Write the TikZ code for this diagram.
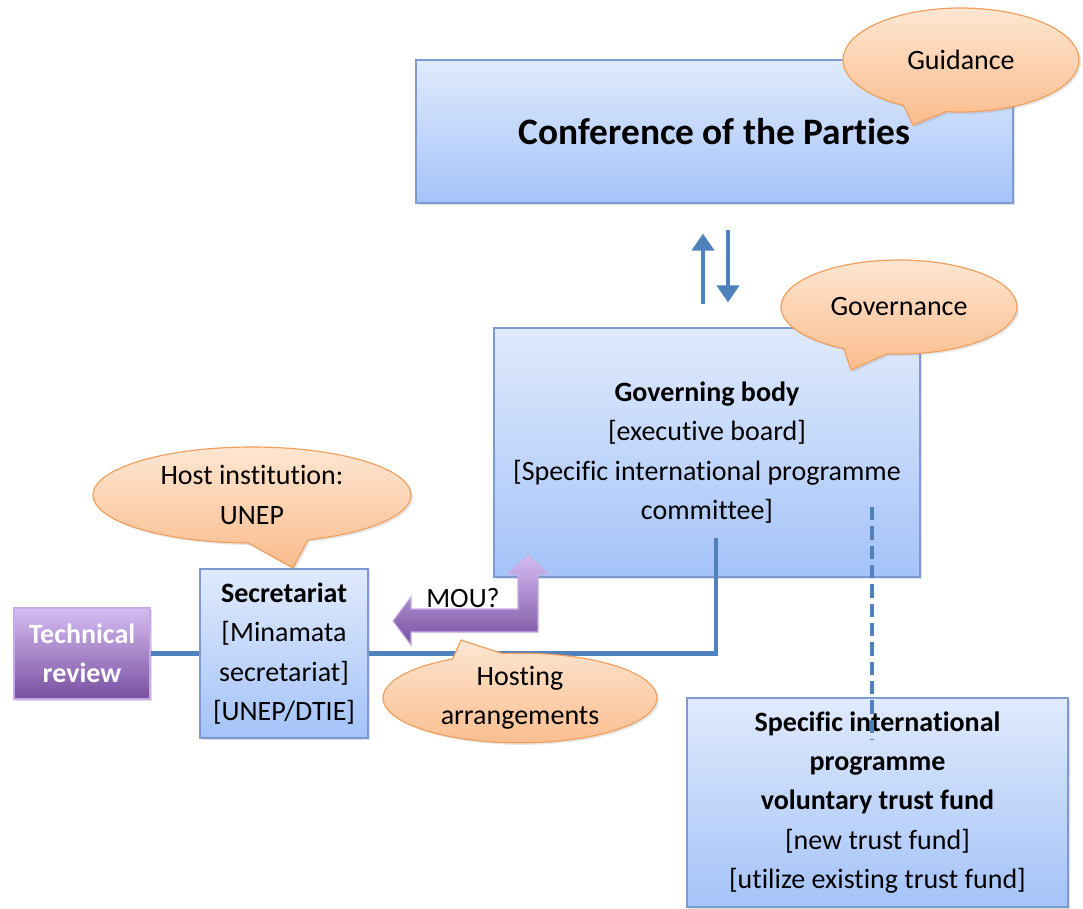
\documentclass[tikz,border=0pt]{standalone}
\usepackage{fontspec}
\setmainfont{Carlito}[Ligatures=NoCommon]
\usepackage{tikz}
\usetikzlibrary{
  arrows.meta,
  calc,
  positioning,
  shapes.callouts,
  shadows
}
\definecolor{boxtop}{RGB}{224,234,252}
\definecolor{boxbottom}{RGB}{164,195,248}
\definecolor{boxline}{RGB}{125,155,210}
\definecolor{calltop}{RGB}{254,230,210}
\definecolor{callbottom}{RGB}{250,188,140}
\definecolor{callline}{RGB}{240,160,95}
\definecolor{techtop}{RGB}{214,188,242}
\definecolor{techbottom}{RGB}{120,80,160}
\definecolor{techline}{RGB}{200,170,230}
\definecolor{flowblue}{RGB}{79,129,189}

\begin{document}
\begin{tikzpicture}[x=0.75pt, y=-0.75pt, font=\fontsize{21}{29.5}\selectfont,
  bodybox/.style={draw=boxline, line width=0.9pt, top color=boxtop, bottom color=boxbottom,
    align=center, inner sep=0pt,
    drop shadow={shadow xshift=1.5pt, shadow yshift=-1.5pt, opacity=0.25}},
  techbox/.style={draw=techline, line width=0.9pt, top color=techtop, bottom color=techbottom,
    align=center, inner sep=0pt, text=white, font=\fontsize{21}{29.5}\selectfont\bfseries,
    drop shadow={shadow xshift=1.5pt, shadow yshift=-1.5pt, opacity=0.25}},
  bubble/.style={ellipse callout, draw=callline, line width=0.9pt, top color=calltop,
    bottom color=callbottom, align=center, inner sep=0pt, callout pointer arc=22,
    drop shadow={shadow xshift=1.5pt, shadow yshift=-1.5pt, opacity=0.2}},
  link/.style={draw=flowblue, line width=3.6pt},
  dashlink/.style={draw=flowblue, line width=3pt, dash pattern=on 10pt off 4.5pt},
  flowarrow/.style={draw=flowblue, line width=3pt,
    -{Triangle[width=16.5pt, length=12.75pt]}}
]
  \useasboundingbox (0,0) rectangle (1083,908);

  % Boxes
  \node[bodybox, minimum width=447.75pt, minimum height=107.25pt,
    font=\fontsize{28}{34}\selectfont\bfseries] (cop) at (714.5,131.5)
    {Conference of the Parties};
  \node[bodybox, minimum width=319.5pt, minimum height=186.75pt] (gov) at (707,452.5)
    {\textbf{Governing body}\\{[executive board]}\\{[Specific international programme}\\committee]};
  \node[bodybox, minimum width=126pt, minimum height=126.75pt] (sec) at (284,653.5)
    {\textbf{Secretariat}\\{[Minamata}\\secretariat]\\{[UNEP/DTIE]}};
  \node[techbox, minimum width=102pt, minimum height=68.25pt] (tech) at (82,653.5)
    {Technical\\review};
  \node[bodybox, minimum width=285.75pt, minimum height=156.75pt] (fund) at (877.5,802.5)
    {\textbf{Specific international}\\\textbf{programme}\\\textbf{voluntary trust fund}\\{[new trust fund]}\\{[utilize existing trust fund]}};

  % COP <-> governing body
  \draw[flowarrow, shorten <=17.25pt, shorten >=22.5pt]
    ([xshift=-3pt]gov.north) -- ([xshift=-3pt]gov.north |- cop.south);
  \draw[flowarrow, shorten <=19.5pt, shorten >=18.75pt]
    ([xshift=15.75pt]gov.north |- cop.south) -- ([xshift=15.75pt]gov.north);

  % Links
  \coordinate (govfoot) at (716,538);
  \coordinate (fundtop) at (872,507);
  \coordinate (fundend) at (872,740);
  \draw[link] (tech.east) -- (sec.west);
  \draw[link] (sec.east) -| (govfoot);
  \draw[dashlink] (fundtop) -- (fundend);

  % MOU arrow
  \shade[top color=techtop, bottom color=techbottom, draw=techline, line width=0.8pt]
    (393,621) -- (411,597) -- (411,609) -- (518,609) -- (518,574) -- (508,574)
    -- (528,555) -- (548,574) -- (538,574) -- (538,632) -- (411,632) -- (411,645) -- cycle;
  \node (mou) at (463,598) {MOU?};

  % Callouts
  \node[bubble, minimum width=177pt, minimum height=78pt,
    callout absolute pointer={(913,125)}] (guide) at (961,60) {Guidance};
  \node[bubble, minimum width=177pt, minimum height=70.5pt,
    callout absolute pointer={(851,370)}] (govern) at (899,307) {Governance};
  \node[bubble, minimum width=238.5pt, minimum height=72pt,
    callout absolute pointer={(293,568)}] (host) at (252,495) {Host institution:\\UNEP};
  \node[bubble, minimum width=205.5pt, minimum height=63.75pt,
    callout absolute pointer={(461,640)}] (hosting) at (520,698) {Hosting\\arrangements};
\end{tikzpicture}
\end{document}
